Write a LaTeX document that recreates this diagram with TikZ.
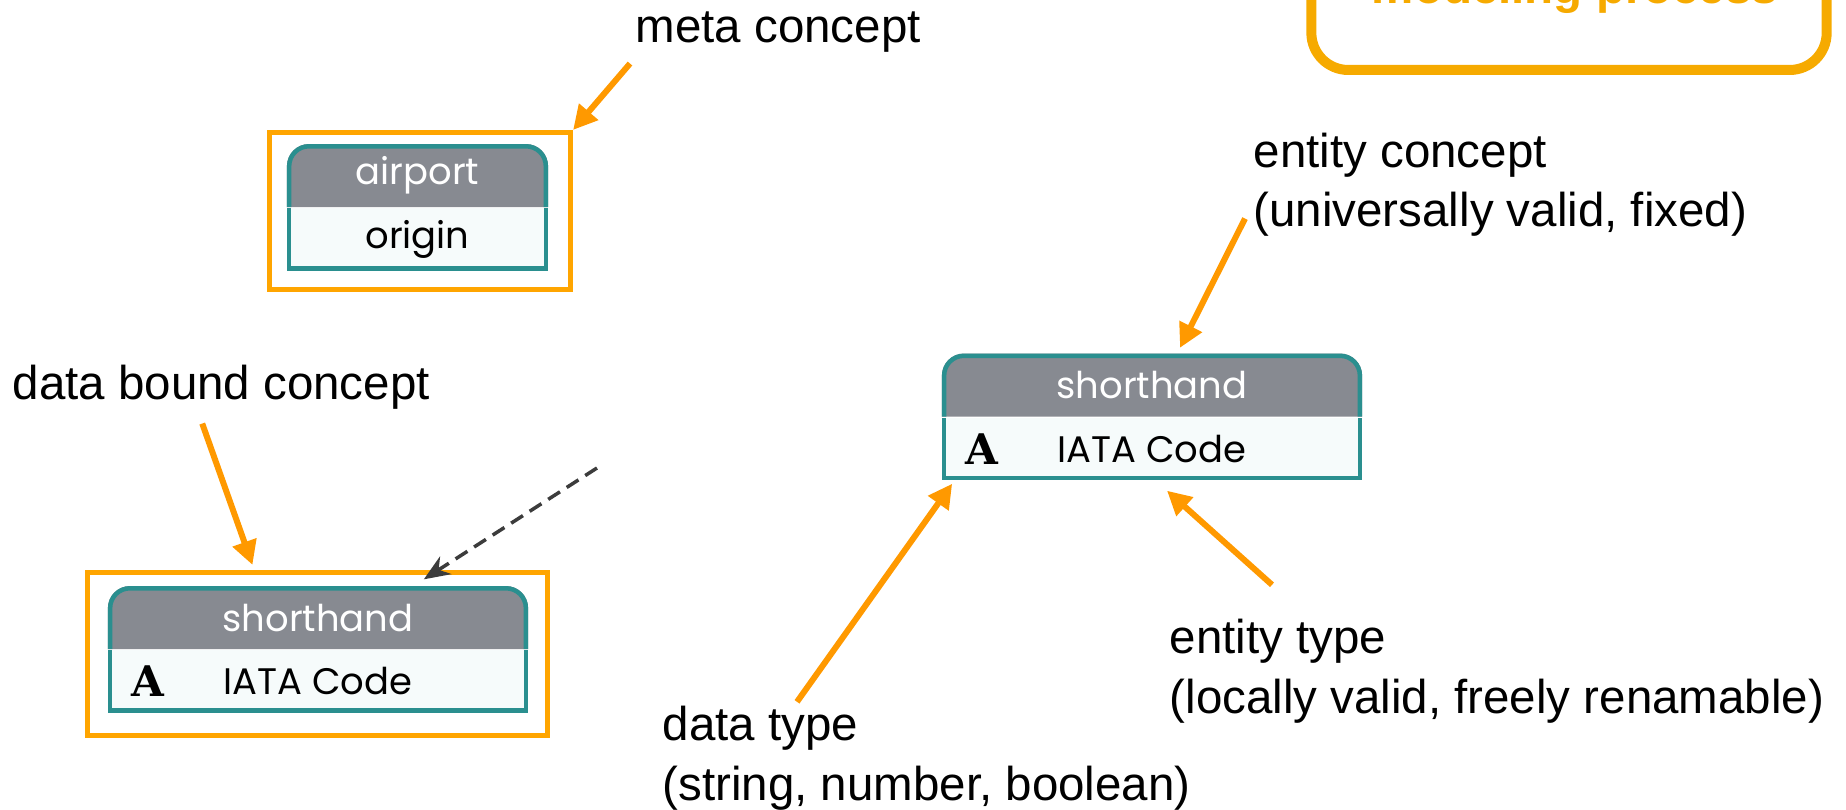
\documentclass[tikz,border=0pt]{standalone}
\usepackage{fontspec}
\setmainfont{Liberation Sans}
\newfontfamily\entfont{Poppins}
\newfontfamily\typefont{DejaVu Serif}
\usetikzlibrary{arrows.meta, positioning}

\definecolor{arroworange}{HTML}{FF9900}
\definecolor{frameorange}{HTML}{FFA500}
\definecolor{procorange}{HTML}{F6AA00}
\definecolor{headgray}{HTML}{878A91}
\definecolor{entteal}{HTML}{2A8F8F}
\definecolor{bodyfill}{HTML}{F6FBFB}
\definecolor{dashgray}{HTML}{3C3C3C}

\begin{document}
\begin{tikzpicture}[
    lbl/.style={font=\fontsize{13.5}{16.8}\selectfont, inner sep=0pt, align=left, anchor=base west},
    frame/.style={draw=frameorange, line width=0.05cm, inner sep=0pt},
    procbox/.style={draw=procorange, line width=0.10cm, rounded corners=0.37cm, minimum width=5.15cm, minimum height=2cm},
    eline/.style={draw=entteal, line width=0.045cm},
    ehead/.style={inner sep=0pt, minimum height=0.63cm, text=white, font=\entfont\fontsize{10.5}{12}\selectfont,
      path picture={
        \fill[headgray] (path picture bounding box.south west) -- ([yshift=-2.2mm]path picture bounding box.north west)
          arc[start angle=180, end angle=90, radius=2.2mm] -- ([xshift=-2.2mm]path picture bounding box.north east)
          arc[start angle=90, end angle=0, radius=2.2mm] -- (path picture bounding box.south east) -- cycle;
        \draw[eline] ([xshift=0.0225cm]path picture bounding box.south west) -- ([shift={(0.0225cm,-2.2mm)}]path picture bounding box.north west)
          arc[start angle=180, end angle=90, radius=1.975mm] -- ([shift={(-2.2mm,-0.0225cm)}]path picture bounding box.north east)
          arc[start angle=90, end angle=0, radius=1.975mm] -- ([xshift=-0.0225cm]path picture bounding box.south east);
      }},
    ebody/.style={inner sep=0pt, minimum height=0.62cm, fill=bodyfill, font=\entfont\fontsize{10.5}{12}\selectfont,
      path picture={
        \draw[eline] ([xshift=0.0225cm]path picture bounding box.north west) -- ([shift={(0.0225cm,0.0225cm)}]path picture bounding box.south west)
          -- ([shift={(-0.0225cm,0.0225cm)}]path picture bounding box.south east) -- ([xshift=-0.0225cm]path picture bounding box.north east);
      }},
    typeA/.style={inner sep=0pt, font=\typefont\bfseries\fontsize{12}{14}\selectfont},
    arrow/.style={-{Triangle[length=0.24cm, width=0.24cm]}, draw=arroworange, line width=0.06cm},
    dasharrow/.style={-{Stealth[length=0.26cm, width=0.21cm]}, draw=dashgray, line width=0.035cm, dash pattern=on 0.14cm off 0.08cm},
    x=0.01cm, y=0.01cm
  ]
  \useasboundingbox (0,0) rectangle (1846,-810);
  \clip (0,0) rectangle (1846,-810);

  % modeling process box, cut off at the top
  \node[procbox, anchor=south] (proc) at (1569,-75) {};
  \node[font=\fontsize{13.5}{16}\selectfont\bfseries, text=procorange, inner sep=0pt, anchor=base] (proctxt) at (1575,-4) {modeling process};

  % meta concept
  \node[frame, minimum width=3.01cm, minimum height=1.57cm] (frame1) at (420,-211) {};
  \node[ebody, minimum width=2.61cm] (sh1b) at (417.5,-239.5) {origin};
  \node[ehead, minimum width=2.61cm, above=0pt of sh1b] (sh1h) {airport};
  \node[lbl] (meta) at (635,-43) {meta concept};
  \draw[arrow] ([shift={(-5,-10)}]meta.south west) -- (frame1.north east);

  % data bound concept
  \node[frame, minimum width=4.60cm, minimum height=1.63cm] (frame2) at (317.5,-654) {};
  \node[ebody, minimum width=4.20cm] (sh2b) at (318,-681.5) {IATA Code};
  \node[ehead, minimum width=4.20cm, above=0pt of sh2b] (sh2h) {shorthand};
  \node[typeA, right=0.24cm of sh2b.west] (a2) {A};
  \node[lbl] (databound) at (12,-400) {data bound concept};
  \draw[arrow] ([shift={(-19,-13)}]databound.south) -- ([shift={(-65,5)}]frame2.north);
  \coordinate (dashfrom) at (597,-468);
  \draw[dasharrow] (dashfrom) -- ([shift={(-105,6)}]sh2h.north east);

  % entity concept
  \node[ebody, minimum width=4.20cm] (sh3b) at (1152,-449) {IATA Code};
  \node[ehead, minimum width=4.20cm, above=0pt of sh3b] (sh3h) {shorthand};
  \node[typeA, right=0.24cm of sh3b.west] (a3) {A};
  \node[lbl] (entconc) at (1253,-227) {entity concept\\(universally valid, fixed)};
  \draw[arrow] ([shift={(-8,19)}]entconc.south west) -- ([shift={(28,5)}]sh3h.north);

  % types
  \node[lbl] (datatype) at (662,-800) {data type\\(string, number, boolean)};
  \draw[arrow] ([shift={(135,4)}]datatype.north west) -- ([shift={(11,-3)}]sh3b.south west);
  \node[lbl] (enttype) at (1169,-713) {entity type\\(locally valid, freely renamable)};
  \draw[arrow] ([shift={(103,34)}]enttype.north west) -- ([shift={(15,-10)}]sh3b.south);
\end{tikzpicture}
\end{document}
